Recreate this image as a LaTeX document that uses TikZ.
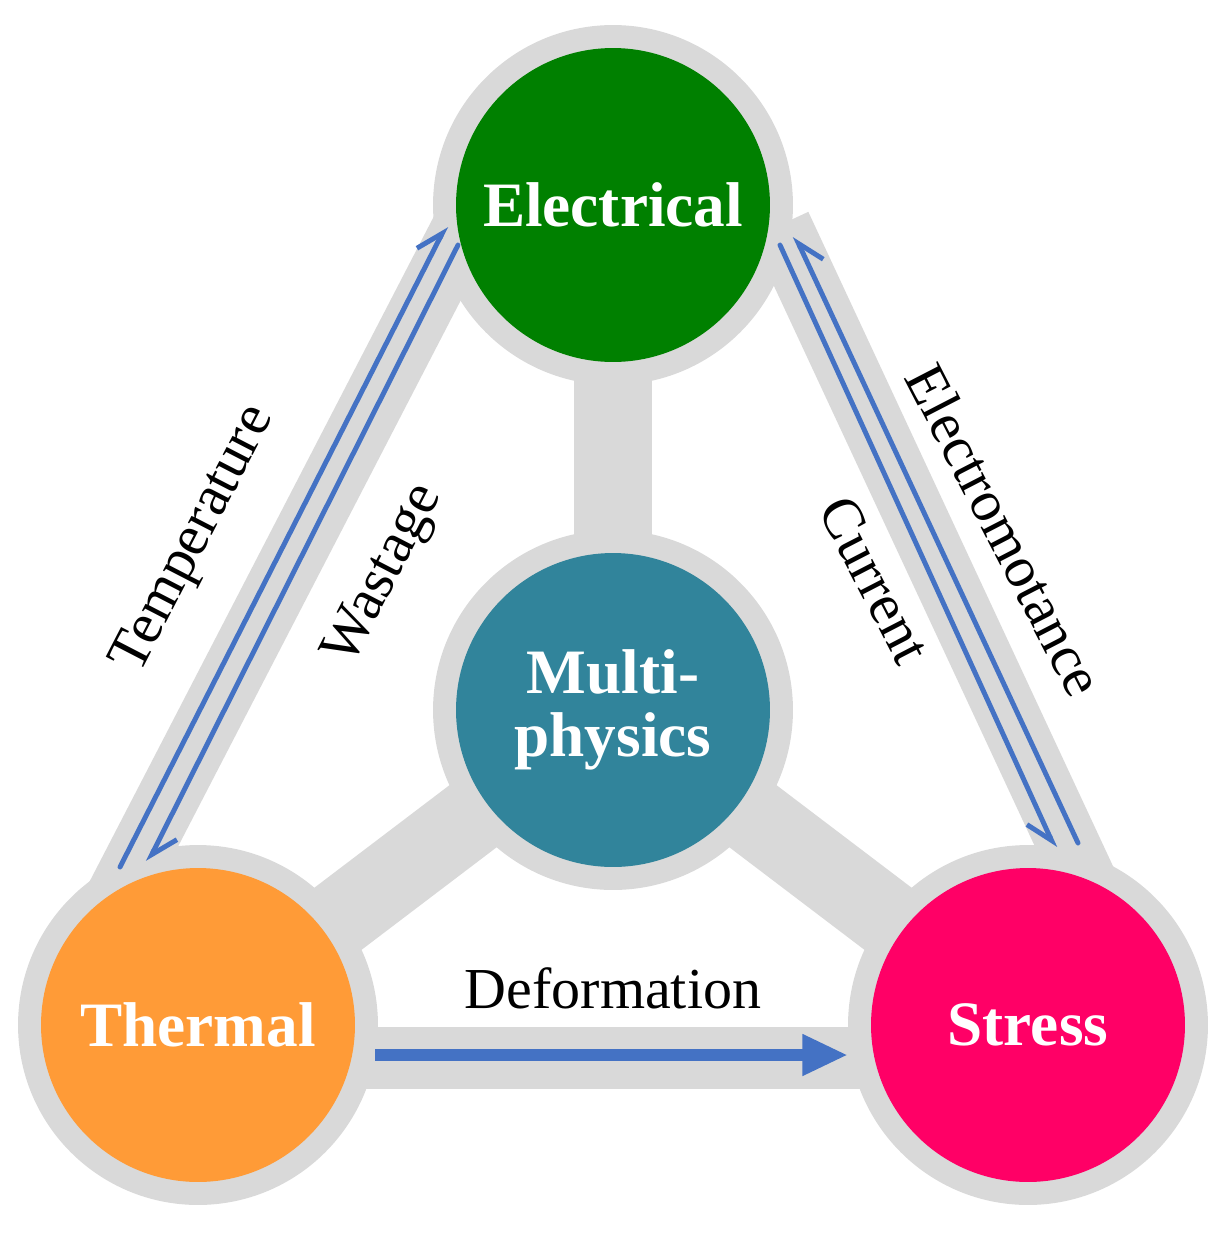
\documentclass[tikz,border=0pt]{standalone}
\usepackage{fontspec}
\setmainfont{Liberation Serif}
\usetikzlibrary{arrows.meta}
\definecolor{elgreen}{HTML}{008000}
\definecolor{mpteal}{HTML}{31849B}
\definecolor{thorange}{HTML}{FF9B37}
\definecolor{stpink}{HTML}{FF0066}
\definecolor{arblue}{HTML}{4472C4}
\definecolor{ringgray}{HTML}{D9D9D9}
\begin{document}
\begin{tikzpicture}[x=0.02cm,y=-0.02cm]
  \tikzstyle{ring}=[circle,fill=ringgray,minimum size=7.2cm,inner sep=0pt]
  \tikzstyle{field}=[circle,minimum size=6.28cm,inner sep=0pt,text=white,font=\bfseries\fontsize{36}{40}\selectfont,align=center]
  \tikzstyle{bar}=[ringgray,line width=1.25cm]
  \tikzstyle{spoke}=[ringgray,line width=1.56cm]
  \tikzstyle{link}=[arblue,line width=2.8pt,line cap=round]
  \tikzstyle{word}=[font=\fontsize{33}{36}\selectfont]
  \useasboundingbox (0,0) rectangle (1231,1235);

    % outer bars and spokes
    \draw[bar] (110,910) -- (462,230);
    \draw[bar] (780,225) -- (1085,880);
    \draw[bar] (198,1058) -- (1028,1058);
    \draw[spoke] (613,205) -- (613,710);
    \draw[spoke] (613,710) -- (198,1025);
    \draw[spoke] (613,710) -- (1028,1025);

    % rings
    \node [ring] at (613,205) {};
    \node [ring] at (613,710) {};
    \node [ring] at (198,1025) {};
    \node [ring] at (1028,1025) {};

    \node [field,fill=elgreen] (elec) at (613,205) {Electrical};
    \node [field,fill=mpteal] (multi) at (613,710) {Multi-\\[-4pt]physics};
    \node [field,fill=thorange] (therm) at (198,1025) {Thermal};
    \node [field,fill=stpink] (stress) at (1028,1025) {Stress};

    % arrow ends
    \coordinate (t1) at (120,867);  \coordinate (e1) at (446,226);
    \coordinate (e2) at (458,245);  \coordinate (t2) at (148,862);
    \coordinate (e3) at (780,245);  \coordinate (s3) at (1055,848);
    \coordinate (s4) at (1078,843); \coordinate (e4) at (795,236);
    \coordinate (t5) at (375,1055); \coordinate (s5) at (848,1055);

    \draw[link,-{Straight Barb[harpoon,length=14pt,width=18pt]}] (t1) -- (e1);
    \draw[link,-{Straight Barb[harpoon,length=14pt,width=18pt]}] (e2) -- (t2);
    \draw[link,-{Straight Barb[harpoon,swap,length=14pt,width=18pt]}] (e3) -- (s3);
    \draw[link,-{Straight Barb[harpoon,swap,length=14pt,width=18pt]}] (s4) -- (e4);
    \draw[arblue,line width=7pt,-{Triangle[length=26pt,width=22pt]}] (t5) -- (s5);

    \node [word,rotate=62.7] (temp) at (195,540) {Temperature};
    \node [word,rotate=62.7] (wast) at (385,575) {Wastage};
    \node [word,rotate=-62.7] (emot) at (1005,530) {Electromotance};
    \node [word,rotate=-62.7] (curr) at (875,580) {Current};
    \node [word] (defo) at (613,988) {Deformation};
\end{tikzpicture}
\end{document}
